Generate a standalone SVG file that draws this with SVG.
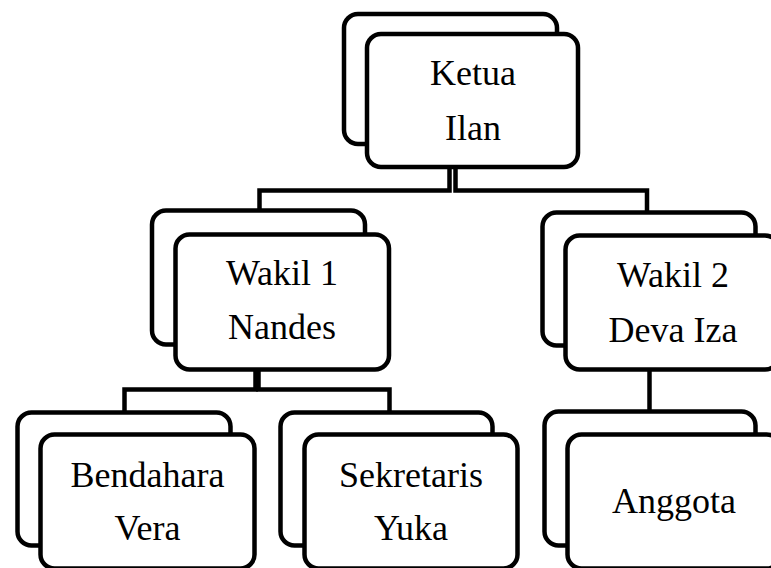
<svg xmlns="http://www.w3.org/2000/svg" width="771" height="568" viewBox="0 0 771 568">
<style>
.box{fill:#fff;stroke:#000;stroke-width:4.5}
.con{fill:none;stroke:#000;stroke-width:4.5}
.t{font-size:36px;fill:#000;text-anchor:middle}
</style>
<rect width="771" height="568" fill="#fff"/>
<g id="connectors">
<path class="con" d="M449.5 167 V190.5 H259.5 V210.5" stroke-width="3.5"/>
<path class="con" d="M455.5 167 V190.5 H647 V212.5" stroke-width="3.5"/>
<path class="con" d="M255.5 369.5 V389.5 H124.5 V412.5"/>
<path class="con" d="M258.5 369.5 V389.5 H389.5 V412.5"/>
<path class="con" d="M649.5 369.5 V411.5"/>
</g>
<g font-family="'Liberation Serif', 'Times New Roman', 'DejaVu Serif', serif">
<g id="ketua">
<rect class="box" x="344" y="14" width="213" height="130" rx="14"/>
<rect class="box" x="367" y="34" width="211" height="133" rx="14"/>
<text class="t" x="473" y="85">Ketua</text>
<text class="t" x="473" y="140">Ilan</text>
</g>
<g id="wakil1">
<rect class="box" x="152" y="210.5" width="213" height="134" rx="14"/>
<rect class="box" x="175.5" y="234.5" width="213.5" height="135" rx="14"/>
<text class="t" x="282" y="285">Wakil 1</text>
<text class="t" x="282" y="339">Nandes</text>
</g>
<g id="wakil2">
<rect class="box" x="542.5" y="212.5" width="213" height="133" rx="14"/>
<rect class="box" x="565.5" y="235.5" width="213.5" height="134" rx="14"/>
<text class="t" x="673" y="287">Wakil 2</text>
<text class="t" x="673" y="342">Deva Iza</text>
</g>
<g id="bendahara">
<rect class="box" x="17.5" y="412.5" width="213" height="133" rx="14"/>
<rect class="box" x="40.5" y="434.5" width="214" height="134" rx="14"/>
<text class="t" x="147.5" y="487">Bendahara</text>
<text class="t" x="147.5" y="540">Vera</text>
</g>
<g id="sekretaris">
<rect class="box" x="280.5" y="412.5" width="212" height="133" rx="14"/>
<rect class="box" x="304.5" y="434.5" width="213" height="134" rx="14"/>
<text class="t" x="411" y="487">Sekretaris</text>
<text class="t" x="411" y="540">Yuka</text>
</g>
<g id="anggota">
<rect class="box" x="544.5" y="411.5" width="211" height="134" rx="14"/>
<rect class="box" x="567.5" y="434.5" width="213" height="134" rx="14"/>
<text class="t" x="674" y="513">Anggota</text>
</g>
</g>
</svg>
